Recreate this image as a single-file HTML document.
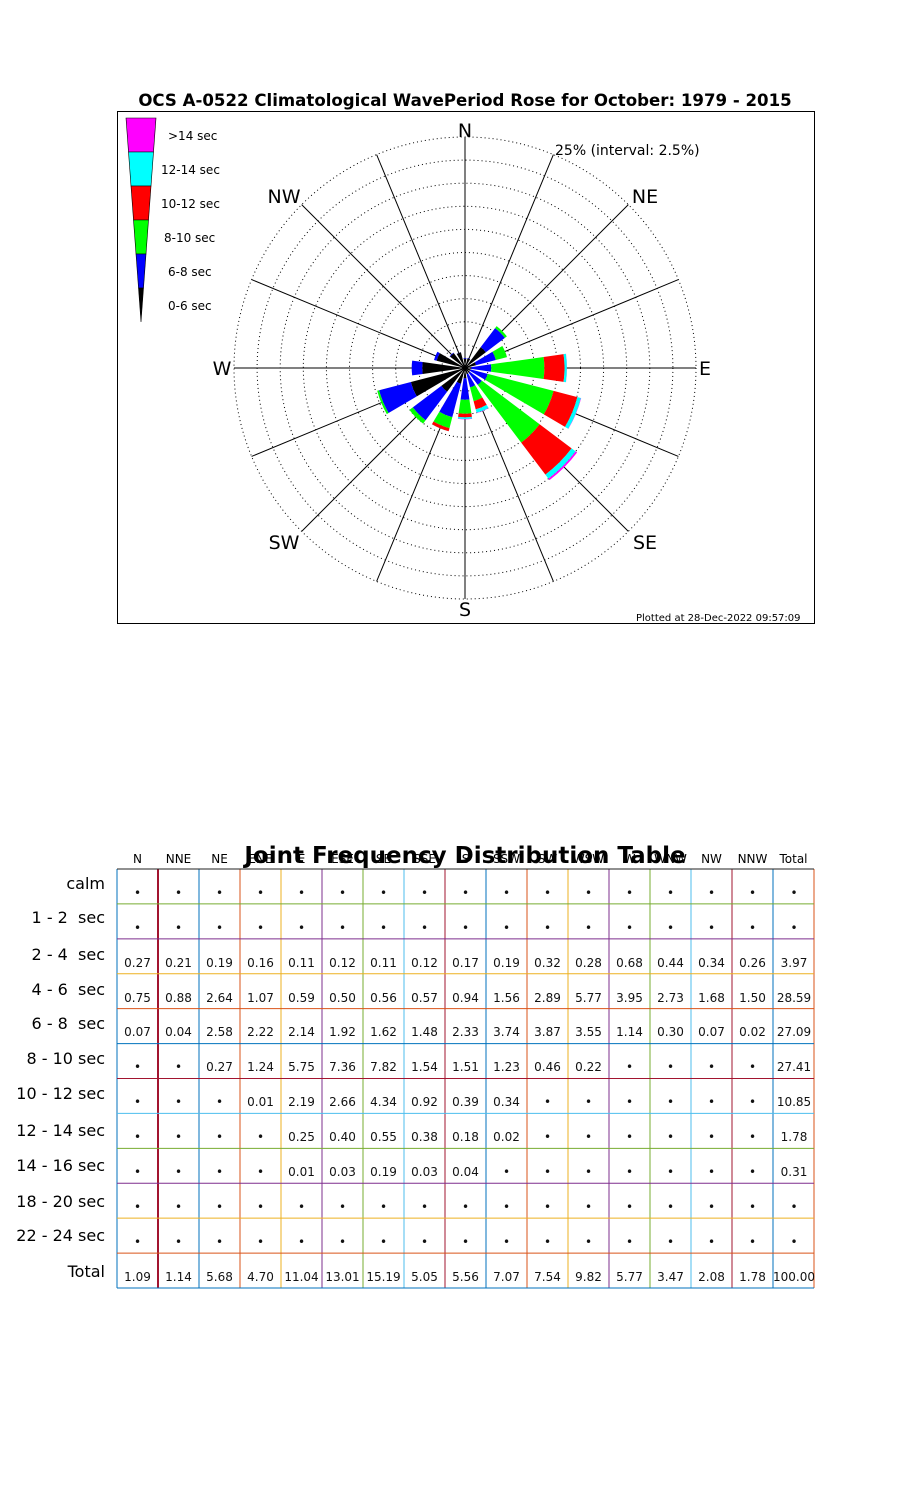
<!DOCTYPE html>
<html><head><meta charset="utf-8"><style>
body{margin:0;background:#fff;width:900px;height:1500px;position:relative;overflow:hidden;font-family:"DejaVu Sans","Liberation Sans",sans-serif}
svg{position:absolute;left:0;top:0}
table{position:absolute;left:117px;top:869px;border-collapse:collapse;table-layout:fixed}
td{width:41px;height:34.9px;padding:0 0 4px 0;text-align:center;vertical-align:bottom;font-size:12px;line-height:14px;box-sizing:border-box;white-space:nowrap;color:#111}
.rl{position:absolute;right:795px;font-size:16px;white-space:nowrap}
.hd{position:absolute;top:852px;width:41px;text-align:center;font-size:12px}
</style></head><body>
<svg id="s" width="900" height="1500" xmlns="http://www.w3.org/2000/svg">
<rect x="117.5" y="111.5" width="697" height="512" fill="none" stroke="#000" stroke-width="1"/>
<g id="rings" fill="none" stroke="#000" stroke-width="1" stroke-dasharray="1,3"></g>
<g id="spokes" stroke="#000" stroke-width="1"></g>
<g id="bars"></g>
<g id="leg"></g>
<g id="tl"></g>
<text x="465" y="106" text-anchor="middle" font-size="16.6" font-weight="bold">OCS A-0522 Climatological WavePeriod Rose for October: 1979 - 2015</text>
<g font-size="19" text-anchor="middle">
<text x="465" y="137">N</text><text x="645" y="203">NE</text><text x="705" y="375">E</text><text x="645" y="549">SE</text>
<text x="465" y="616">S</text><text x="284" y="549">SW</text><text x="222" y="375">W</text><text x="284" y="203">NW</text>
</g>
<text x="555" y="155" font-size="14">25% (interval: 2.5%)</text>
<text x="636" y="621" font-size="10">Plotted at 28-Dec-2022 09:57:09</text>
<g font-size="12">
<text x="168" y="140">&gt;14 sec</text><text x="161" y="174">12-14 sec</text><text x="161" y="208">10-12 sec</text>
<text x="164" y="242">8-10 sec</text><text x="168" y="276">6-8 sec</text><text x="168" y="310">0-6 sec</text>
</g>
<text x="465" y="863" text-anchor="middle" font-size="23" font-weight="bold">Joint Frequency Distribution Table</text>
</svg>
<div class="hd" style="left:117px">N</div><div class="hd" style="left:158px">NNE</div><div class="hd" style="left:199px">NE</div><div class="hd" style="left:240px">ENE</div><div class="hd" style="left:281px">E</div><div class="hd" style="left:322px">ESE</div><div class="hd" style="left:363px">SE</div><div class="hd" style="left:404px">SSE</div><div class="hd" style="left:445px">S</div><div class="hd" style="left:486px">SSW</div><div class="hd" style="left:527px">SW</div><div class="hd" style="left:568px">WSW</div><div class="hd" style="left:609px">W</div><div class="hd" style="left:650px">WNW</div><div class="hd" style="left:691px">NW</div><div class="hd" style="left:732px">NNW</div><div class="hd" style="left:773px">Total</div>
<div class="rl" style="top:874px">calm</div>
<div class="rl" style="top:908px">1 - 2&nbsp; sec</div>
<div class="rl" style="top:945px">2 - 4&nbsp; sec</div>
<div class="rl" style="top:980px">4 - 6&nbsp; sec</div>
<div class="rl" style="top:1014px">6 - 8&nbsp; sec</div>
<div class="rl" style="top:1049px">8 - 10 sec</div>
<div class="rl" style="top:1084px">10 - 12 sec</div>
<div class="rl" style="top:1121px">12 - 14 sec</div>
<div class="rl" style="top:1156px">14 - 16 sec</div>
<div class="rl" style="top:1192px">18 - 20 sec</div>
<div class="rl" style="top:1226px">22 - 24 sec</div>
<div class="rl" style="top:1262px">Total</div>
<table>
<tr><td>•</td><td>•</td><td>•</td><td>•</td><td>•</td><td>•</td><td>•</td><td>•</td><td>•</td><td>•</td><td>•</td><td>•</td><td>•</td><td>•</td><td>•</td><td>•</td><td>•</td></tr>
<tr><td>•</td><td>•</td><td>•</td><td>•</td><td>•</td><td>•</td><td>•</td><td>•</td><td>•</td><td>•</td><td>•</td><td>•</td><td>•</td><td>•</td><td>•</td><td>•</td><td>•</td></tr>
<tr><td>0.27</td><td>0.21</td><td>0.19</td><td>0.16</td><td>0.11</td><td>0.12</td><td>0.11</td><td>0.12</td><td>0.17</td><td>0.19</td><td>0.32</td><td>0.28</td><td>0.68</td><td>0.44</td><td>0.34</td><td>0.26</td><td>3.97</td></tr>
<tr><td>0.75</td><td>0.88</td><td>2.64</td><td>1.07</td><td>0.59</td><td>0.50</td><td>0.56</td><td>0.57</td><td>0.94</td><td>1.56</td><td>2.89</td><td>5.77</td><td>3.95</td><td>2.73</td><td>1.68</td><td>1.50</td><td>28.59</td></tr>
<tr><td>0.07</td><td>0.04</td><td>2.58</td><td>2.22</td><td>2.14</td><td>1.92</td><td>1.62</td><td>1.48</td><td>2.33</td><td>3.74</td><td>3.87</td><td>3.55</td><td>1.14</td><td>0.30</td><td>0.07</td><td>0.02</td><td>27.09</td></tr>
<tr><td>•</td><td>•</td><td>0.27</td><td>1.24</td><td>5.75</td><td>7.36</td><td>7.82</td><td>1.54</td><td>1.51</td><td>1.23</td><td>0.46</td><td>0.22</td><td>•</td><td>•</td><td>•</td><td>•</td><td>27.41</td></tr>
<tr><td>•</td><td>•</td><td>•</td><td>0.01</td><td>2.19</td><td>2.66</td><td>4.34</td><td>0.92</td><td>0.39</td><td>0.34</td><td>•</td><td>•</td><td>•</td><td>•</td><td>•</td><td>•</td><td>10.85</td></tr>
<tr><td>•</td><td>•</td><td>•</td><td>•</td><td>0.25</td><td>0.40</td><td>0.55</td><td>0.38</td><td>0.18</td><td>0.02</td><td>•</td><td>•</td><td>•</td><td>•</td><td>•</td><td>•</td><td>1.78</td></tr>
<tr><td>•</td><td>•</td><td>•</td><td>•</td><td>0.01</td><td>0.03</td><td>0.19</td><td>0.03</td><td>0.04</td><td>•</td><td>•</td><td>•</td><td>•</td><td>•</td><td>•</td><td>•</td><td>0.31</td></tr>
<tr><td>•</td><td>•</td><td>•</td><td>•</td><td>•</td><td>•</td><td>•</td><td>•</td><td>•</td><td>•</td><td>•</td><td>•</td><td>•</td><td>•</td><td>•</td><td>•</td><td>•</td></tr>
<tr><td>•</td><td>•</td><td>•</td><td>•</td><td>•</td><td>•</td><td>•</td><td>•</td><td>•</td><td>•</td><td>•</td><td>•</td><td>•</td><td>•</td><td>•</td><td>•</td><td>•</td></tr>
<tr><td>1.09</td><td>1.14</td><td>5.68</td><td>4.70</td><td>11.04</td><td>13.01</td><td>15.19</td><td>5.05</td><td>5.56</td><td>7.07</td><td>7.54</td><td>9.82</td><td>5.77</td><td>3.47</td><td>2.08</td><td>1.78</td><td>100.00</td></tr>
</table>
<script>
(function(){
var NS="http://www.w3.org/2000/svg",cx=465,cy=368,R=231,u=R/25;
function el(p,t,a){var e=document.createElementNS(NS,t);for(var k in a)e.setAttribute(k,a[k]);document.getElementById(p).appendChild(e);}
for(var k=1;k<=10;k++)el("rings","circle",{cx:cx,cy:cy,r:R*k/10});
for(var i=0;i<16;i++){var a=i*22.5*Math.PI/180;el("spokes","line",{x1:cx,y1:cy,x2:cx+R*Math.sin(a),y2:cy-R*Math.cos(a)});}
var cols=["#000","#00f","#0f0","#f00","#0ff","#f0f"];
var d=[[1.02,1.09],[1.09,1.13],[2.83,5.41,5.68],[1.23,3.45,4.69,4.70],[0.70,2.84,8.59,10.78,11.03,11.04],[0.62,2.54,9.90,12.56,12.96,12.99],[0.67,2.29,10.11,14.45,15.0,15.19],[0.69,2.17,3.71,4.63,5.01,5.04],[1.11,3.44,4.95,5.34,5.52,5.56],[1.75,5.49,6.72,7.06,7.08],[3.21,7.08,7.54],[6.05,9.60,9.82],[4.63,5.77],[3.17,3.47],[2.02,2.09],[1.76,1.78]];
function pt(r,a){return (cx+r*Math.sin(a)).toFixed(1)+","+(cy-r*Math.cos(a)).toFixed(1);}
for(var i=0;i<16;i++){var th=i*22.5*Math.PI/180,h=8*Math.PI/180,r0=0;
for(var j=0;j<d[i].length;j++){var r1=d[i][j]*u;if(r1<=r0){continue;}
var p="M"+pt(r0,th-h)+" L"+pt(r1,th-h)+" A"+r1+","+r1+" 0 0 1 "+pt(r1,th+h)+" L"+pt(r0,th+h)+(r0>0?" A"+r0+","+r0+" 0 0 0 "+pt(r0,th-h):"")+"Z";
el("bars","path",{d:p,fill:cols[j]});r0=r1;}}
var lc=["#f0f","#0ff","#f00","#0f0","#00f","#000"];
for(var j=0;j<6;j++){var y0=118+34*j,y1=y0+34,w0=30*(322-y0)/204,w1=30*(322-y1)/204;
el("leg","polygon",{points:(141-w0/2)+","+y0+" "+(141+w0/2)+","+y0+" "+(141+w1/2)+","+y1+" "+(141-w1/2)+","+y1,fill:lc[j],stroke:"#000","stroke-width":0.6});}
var mc=["#0072BD","#D95319","#EDB120","#7E2F8E","#77AC30","#4DBEEE","#A2142F"];
var tt=869,bb=1288,rh=(bb-tt)/12;
for(var c=0;c<=17;c++){var x=117+41*c;var col=c==0?mc[0]:mc[(c+5)%7];
el("tl","line",{x1:x,y1:tt,x2:x,y2:bb,stroke:col,"stroke-width":c==1?2:1});}
for(var r=0;r<=12;r++){var y=tt+rh*r;var col=r==0?"#222":mc[((4-(r-1))%7+7)%7];
el("tl","line",{x1:117,y1:y,x2:814,y2:y,stroke:col,"stroke-width":1});}
})();
</script>
</body></html>
